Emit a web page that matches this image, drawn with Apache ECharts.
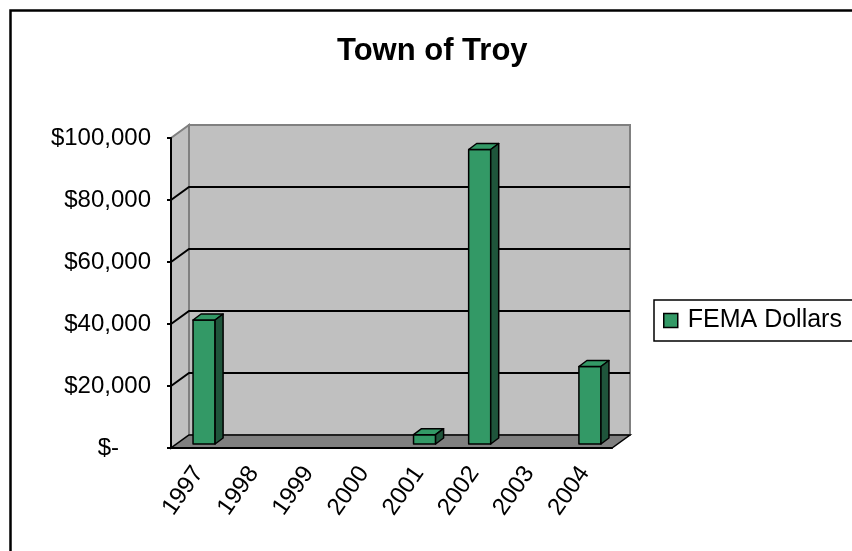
<!DOCTYPE html>
<html>
<head>
<meta charset="utf-8">
<title>Town of Troy</title>
<script src="https://cdn.jsdelivr.net/npm/echarts@6/dist/echarts.min.js"></script>
<style>
    html, body { margin: 0; padding: 0; background: #fff; }
    #chart { width: 852px; height: 551px; }
</style>
</head>
<body>
<div id="chart"></div>
<script>
var years = ['1997', '1998', '1999', '2000', '2001', '2002', '2003', '2004'];
var femaDollars = [40000, null, null, null, 3000, 95000, null, 25000];
var yTicks = [0, 20000, 40000, 60000, 80000, 100000];

var FONT = "'Liberation Sans', Arial, sans-serif";
// depth of the fake 3d box (back wall offset) and of the bars
var DX = 18, DY = -13;
var BX = 5.5, BY = -4;   // bar front face sits a bit inside the floor
var SX = 8, SY = -6;     // bar depth

function renderWalls(params, api) {
    var cs = params.coordSys;
    var x0 = cs.x, x1 = cs.x + cs.width;
    var yTop = cs.y, yBot = cs.y + cs.height;
    var kids = [];
    // back wall
    kids.push({
        type: 'rect',
        shape: { x: x0 + DX, y: yTop + DY, width: cs.width, height: cs.height },
        style: { fill: '#c0c0c0', stroke: '#808080', lineWidth: 2 }
    });
    // left wall
    kids.push({
        type: 'polygon',
        shape: { points: [[x0, yBot], [x0, yTop], [x0 + DX, yTop + DY], [x0 + DX, yBot + DY]] },
        style: { fill: '#c0c0c0', stroke: '#808080', lineWidth: 2 }
    });
    // floor
    kids.push({
        type: 'polygon',
        shape: { points: [[x0, yBot], [x1, yBot], [x1 + DX, yBot + DY], [x0 + DX, yBot + DY]] },
        style: { fill: '#808080', stroke: '#000', lineWidth: 1.5 }
    });
    // gridlines (not on floor / top edge)
    yTicks.forEach(function (t, i) {
        if (i === 0 || i === yTicks.length - 1) return;
        var y = api.coord([0, t])[1];
        kids.push({
            type: 'polyline',
            shape: { points: [[x0, y], [x0 + DX, y + DY], [x1 + DX, y + DY]] },
            style: { fill: null, stroke: '#000', lineWidth: 2 }
        });
    });
    return { type: 'group', children: kids };
}

function renderBar(params, api) {
    var v = api.value(1);
    if (!v) return null;
    var top = api.coord([api.value(0), v]);
    var base = api.coord([api.value(0), 0]);
    var w = api.size([1, 0])[0] * 0.4;
    var xl = top[0] - w / 2 + BX, xr = xl + w;
    var yt = top[1] + BY, yb = base[1] + BY;
    var edge = { stroke: '#000', lineWidth: 1.5, lineJoin: 'round' };
    return {
        type: 'group',
        children: [
            { type: 'rect', shape: { x: xl, y: yt, width: w, height: yb - yt },
              style: Object.assign({ fill: '#339966' }, edge) },
            { type: 'polygon', shape: { points: [[xl, yt], [xr, yt], [xr + SX, yt + SY], [xl + SX, yt + SY]] },
              style: Object.assign({ fill: '#339966' }, edge) },
            { type: 'polygon', shape: { points: [[xr, yt], [xr + SX, yt + SY], [xr + SX, yb + SY], [xr, yb]] },
              style: Object.assign({ fill: '#1f553b' }, edge) }
        ]
    };
}

var chart = echarts.init(document.getElementById('chart'));
var option = {
    backgroundColor: '#fff',
    animation: false,
    graphic: [{
        type: 'rect', left: 8, top: 8,
        shape: { width: 1000, height: 1000 },
        style: { fill: null, stroke: '#000', lineWidth: 2.5 }
    }],
    title: {
        text: 'Town of Troy',
        left: 332, top: 31,
        textStyle: { fontFamily: FONT, fontSize: 31, fontWeight: 'bold', color: '#000' }
    },
    legend: {
        data: [{ name: 'FEMA Dollars', icon: 'rect' }],
        left: 654, top: 300,
        padding: [8, 30, 8, 9],
        itemWidth: 14, itemHeight: 14,
        borderColor: '#000', borderWidth: 1.5,
        itemStyle: { color: '#339966', borderColor: '#000', borderWidth: 1.5 },
        textStyle: { fontFamily: FONT, fontSize: 25, color: '#000', padding: [0, 0, 0, 5] }
    },
    grid: { left: 171, right: 240, top: 138, bottom: 103 },
    xAxis: {
        type: 'category',
        data: years,
        axisLine: { lineStyle: { color: '#000', width: 2 } },
        axisTick: { length: 5, lineStyle: { color: '#000', width: 2 } },
        axisLabel: { rotate: 55, margin: 21, fontFamily: FONT, fontSize: 24, color: '#000' }
    },
    yAxis: {
        type: 'value',
        min: 0, max: 100000, interval: 20000,
        splitLine: { show: false },
        axisLine: { show: true, lineStyle: { color: '#000', width: 2 } },
        axisTick: { show: true, length: 4, lineStyle: { color: '#000', width: 2 } },
        axisLabel: {
            margin: 20, fontFamily: FONT, fontSize: 24, color: '#000',
            formatter: function (v) {
                if (v === 0) return '{z|$-}';
                return '$' + v.toLocaleString('en-US');
            },
            rich: { z: { fontFamily: FONT, fontSize: 24, color: '#000', padding: [0, 32, 0, 0] } }
        }
    },
    series: [
        {
            name: 'walls',
            type: 'custom',
            z: -1,
            silent: true,
            renderItem: renderWalls,
            data: [[0, 0]]
        },
        {
            name: 'FEMA Dollars',
            type: 'custom',
            renderItem: renderBar,
            itemStyle: { color: '#339966' },
            encode: { x: 0, y: 1 },
            data: years.map(function (y, i) { return [i, femaDollars[i]]; })
        }
    ]
};
chart.setOption(option);
</script>
</body>
</html>
